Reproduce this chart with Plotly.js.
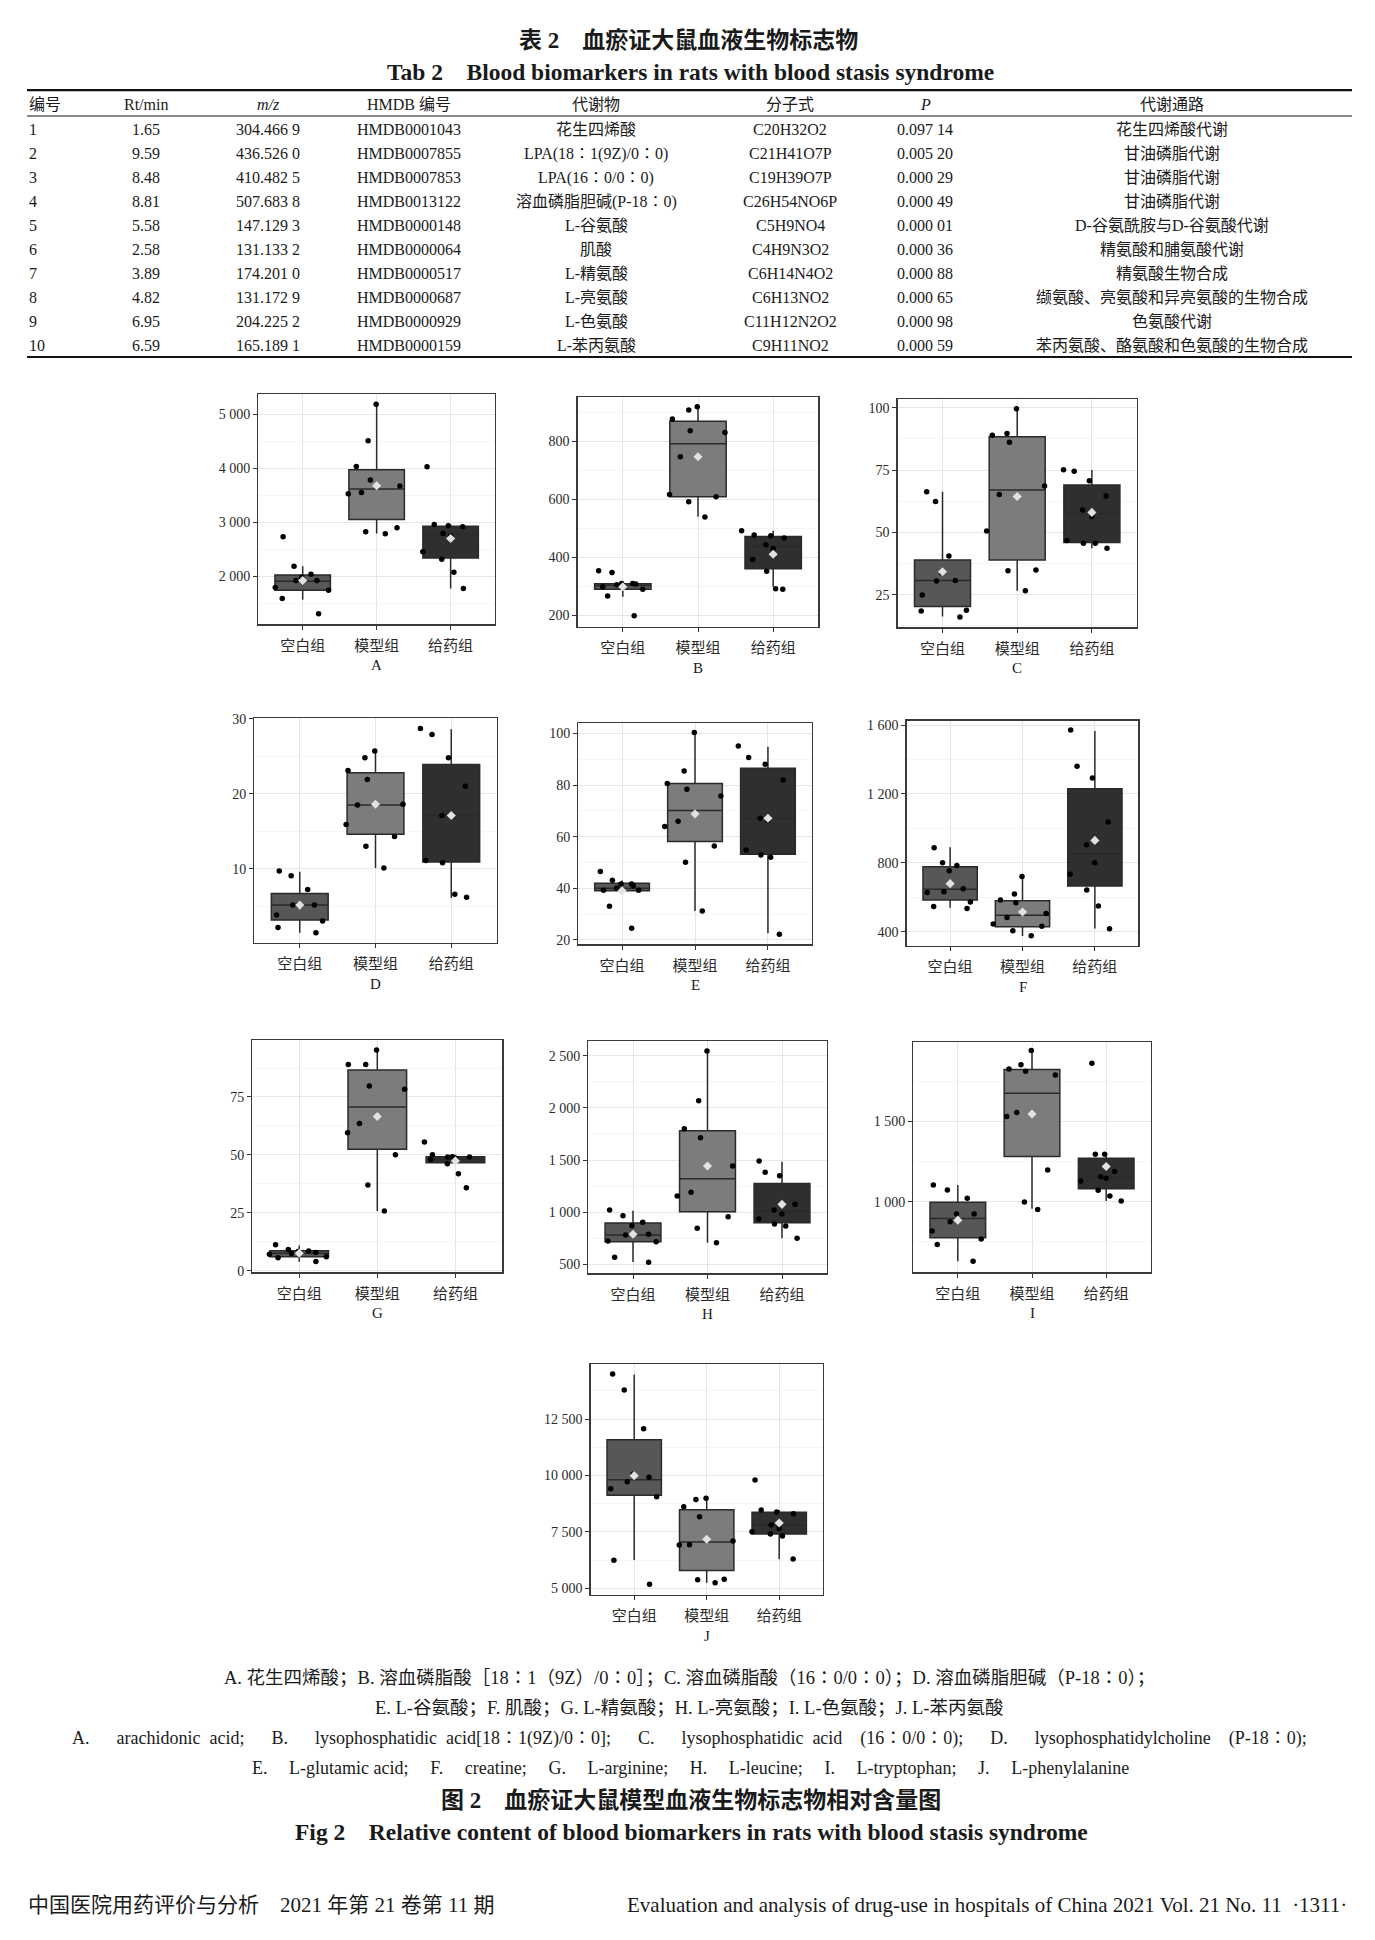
<!DOCTYPE html>
<html><head><meta charset="utf-8">
<script src="https://cdn.plot.ly/plotly-3.0.1.min.js"></script>
<style>html,body{margin:0;padding:0;background:#fff}#chart{width:1375px;height:1940px}</style>
</head><body><div id="chart"></div>
<script>
// ---------- table data ----------
const tabHeader = ['编号','Rt/min','<i>m/z</i>','HMDB 编号','代谢物','分子式','<i>P</i>','代谢通路'];
const tabNo = ['1','2','3','4','5','6','7','8','9','10'];
const tabRt = ['1.65','9.59','8.48','8.81','5.58','2.58','3.89','4.82','6.95','6.59'];
const tabMz = ['304.466 9','436.526 0','410.482 5','507.683 8','147.129 3','131.133 2','174.201 0','131.172 9','204.225 2','165.189 1'];
const tabHmdb = ['HMDB0001043','HMDB0007855','HMDB0007853','HMDB0013122','HMDB0000148','HMDB0000064','HMDB0000517','HMDB0000687','HMDB0000929','HMDB0000159'];
const tabMetab = ['花生四烯酸','LPA(18∶1(9Z)/0∶0)','LPA(16∶0/0∶0)','溶血磷脂胆碱(P-18∶0)','L-谷氨酸','肌酸','L-精氨酸','L-亮氨酸','L-色氨酸','L-苯丙氨酸'];
const tabFormula = ['C20H32O2','C21H41O7P','C19H39O7P','C26H54NO6P','C5H9NO4','C4H9N3O2','C6H14N4O2','C6H13NO2','C11H12N2O2','C9H11NO2'];
const tabP = ['0.097 14','0.005 20','0.000 29','0.000 49','0.000 01','0.000 36','0.000 88','0.000 65','0.000 98','0.000 59'];
const tabPath = ['花生四烯酸代谢','甘油磷脂代谢','甘油磷脂代谢','甘油磷脂代谢','D-谷氨酰胺与D-谷氨酸代谢','精氨酸和脯氨酸代谢','精氨酸生物合成','缬氨酸、亮氨酸和异亮氨酸的生物合成','色氨酸代谢','苯丙氨酸、酪氨酸和色氨酸的生物合成'];

// ---------- figure data ----------
const groups = ['空白组','模型组','给药组'];
const panelLabels = ['A','B','C','D','E','F','G','H','I','J'];
// points per group (空白组, 模型组, 给药组)
const ptsA = [[2186,1920,1981,2730,2037,1790,1920,1740,1586,1307],[5186,4512,4035,3670,3782,3553,3528,2897,2823,2786],[4029,2915,2959,2934,2792,2742,2315,2452,2074,1771]];
const ptsB = [[289,266,309,305,347,298,353,307,198,309],[918,907,876,830,836,746,616,608,591,538],[476,466,443,430,392,474,491,351,291,289]];
const ptsC = [[66.3,62.4,40.5,33.8,30.7,30.5,24.9,18.7,18.4,16.0],[99.6,89.7,89.0,86.1,68.6,65.2,50.5,34.6,34.9,26.6],[74.5,75.1,70.7,64.6,59.0,56.3,46.7,45.6,45.6,43.6]];
const ptsD = [[9.73,9.07,7.25,5.17,5.17,5.17,3.84,3.04,2.2,1.49],[25.7,24.8,23.1,21.9,18.5,14.3,15.9,13.0,10.1,18.6],[28.7,27.9,24.8,21.0,17.1,17.1,11.1,10.8,6.6,6.2]];
const ptsE = [[46.5,43.1,41.7,41.7,40.1,39.2,39.2,33.0,24.5,41.0],[100.3,80.6,85.4,75.7,63.9,56.4,50.1,31.2,66.0,78.4],[95.1,90.7,88.0,81.9,67.1,54.8,52.9,52.0,22.2,66.3]];
const ptsF = [[888,801,785,754,650,628,632,572,547,535],[721,619,584,568,483,445,431,406,377,506],[1571,1360,1292,1037,905,801,733,642,549,417]];
const ptsG = [[11.2,8.5,9.1,8.3,7.8,5.6,4.0,7.1,6.0,7.4],[95.3,89.0,89.0,79.7,78.3,63.5,59.5,50.1,37.0,25.8],[55.6,49.1,50.1,49.2,49.1,46.2,41.9,35.8,48.0,48.5]];
const ptsH = [[1021,966,871,903,781,788,724,717,567,519],[2545,2069,1800,1714,1442,1155,1190,957,845,708],[1490,1382,1350,1075,1021,982,887,935,867,749]];
const ptsI = [[1104,1073,1021,923,923,875,817,767,733,629],[1942,1854,1827,1790,1556,1531,1198,998,952,1812],[1863,1296,1296,1188,1146,1156,1129,1071,1035,1004]];
const ptsJ = [[14493,13785,12072,10064,9917,9724,9414,9060,6240,5177],[8986,8617,8174,7097,6919,6934,5399,5384,5251,8939],[9798,8307,8470,8381,7805,7510,7318,7407,6299,7645]];
// box statistics per group: [lower whisker, Q1, median, Q3, upper whisker]
const boxA = [[1567,1740,1907,2025,2186],[2792,3052,3615,3973,5173],[1771,2340,2773,2928,2955]];
const boxB = [[263,289,302,308,310],[539,608,791,868,915],[298,360,437,471,491]];
const boxC = [[16.2,20.2,30.7,38.9,66.3],[26.6,38.9,67.0,88.4,99.3],[43.6,45.9,57.6,69.0,75.0]];
const boxD = [[1.49,3.17,5.17,6.72,9.6],[10.1,14.6,18.5,22.8,25.7],[6.1,10.9,17.1,23.9,28.6]];
const boxE = [[38.7,39.0,40.0,41.9,43.0],[31.2,58.1,70.1,80.6,100],[22.6,53.2,67.1,86.5,94.8]];
const boxF = [[539,584,646,777,890],[375,429,495,580,719],[419,665,851,1230,1565]];
const boxG = [[3.9,6.0,7.5,8.6,10.9],[25.8,52.4,70.7,86.7,94.9],[46.2,46.6,48.1,49.2,50.1]];
const boxH = [[522,717,781,896,1014],[708,1005,1321,1781,2538],[749,899,1008,1276,1484]];
const boxI = [[629,775,896,996,1104],[956,1281,1675,1823,1938],[1004,1081,1150,1271,1290]];
const boxJ = [[6255,9119,9813,11585,14478],[5251,5783,7052,8484,8986],[6284,7407,7805,8366,8470]];
// group means
const meanA = [1920,3677,2698];
const meanB = [298,746,410];
const meanC = [34.2,64.4,58.0];
const meanD = [5.17,18.6,17.1];
const meanE = [39.0,68.8,67.1];
const meanF = [679,514,930];
const meanG = [7.5,66.6,47.4];
const meanH = [788,1443,1075];
const meanI = [885,1546,1219];
const meanJ = [9990,7170,7894];
// axis ranges and tick steps
const yRanges = [[1110,5376],[160,951],[11.9,103.5],[0.16,30.06],[18.3,103.9],[317,1625],[-0.7,99.6],[414,2641],[560,1995],[4703,14938]];
const yDticks = [1000,200,25,10,20,400,25,500,500,2500];

// ---------- captions ----------
const capCn = [
  'A. 花生四烯酸；B. 溶血磷脂酸［18∶1（9Z）/0∶0］；C. 溶血磷脂酸（16∶0/0∶0）；D. 溶血磷脂胆碱（P-18∶0）；',
  'E. L-谷氨酸；F. 肌酸；G. L-精氨酸；H. L-亮氨酸；I. L-色氨酸；J. L-苯丙氨酸'
];
const capEn = [
  'A.\u2003\u2002arachidonic\u2002acid;\u2003\u2002B.\u2003\u2002lysophosphatidic\u2002acid[18∶1(9Z)/0∶0];\u2003\u2002C.\u2003\u2002lysophosphatidic\u2002acid\u2003(16∶0/0∶0);\u2003\u2002D.\u2003\u2002lysophosphatidylcholine\u2003(P-18∶0);',
  'E.\u2002\u2002\u2009L-glutamic acid;\u2002\u2002\u2009F.\u2002\u2002\u2009creatine;\u2002\u2002\u2009G.\u2002\u2002\u2009L-arginine;\u2002\u2002\u2009H.\u2002\u2002\u2009L-leucine;\u2002\u2002\u2009I.\u2002\u2002\u2009L-tryptophan;\u2002\u2002\u2009J.\u2002\u2002\u2009L-phenylalanine'
];
const figTitleCn = '图 2\u2003血瘀证大鼠模型血液生物标志物相对含量图';
const figTitleEn = 'Fig 2\u2003Relative content of blood biomarkers in rats with blood stasis syndrome';
const tabTitleCn = '表 2\u2003血瘀证大鼠血液生物标志物';
const tabTitleEn = 'Tab 2\u2003Blood biomarkers in rats with blood stasis syndrome';
const footLeft = '中国医院用药评价与分析\u20032021 年第 21 卷第 11 期';
const footRight = 'Evaluation and analysis of drug-use in hospitals of China 2021 Vol. 21 No. 11\u2002·1311·';

// ---------- layout geometry ----------
const W = 1375, H = 1940;
const SERIF = "'Liberation Serif', 'Noto Sans CJK SC', serif";
const INK = '#1a1a1a';
const fx = p => p / W, fy = p => 1 - p / H;
// plot areas in page pixels [left, right, top, bottom]
const areas = [
  [258.3,495,394,624.3],[577.7,818.3,397.3,626.7],[897.7,1136.7,399,627.3],
  [254.3,496.7,718.3,942.7],[578.3,811.7,723.3,944.3],[906.7,1138.3,720.7,946],
  [252.3,502.3,1040,1272.3],[588.3,826.7,1041,1273.3],[913.3,1150.7,1042,1272.3],
  [590.7,822.7,1364,1595]
];
const allPts = [ptsA,ptsB,ptsC,ptsD,ptsE,ptsF,ptsG,ptsH,ptsI,ptsJ];
const allBox = [boxA,boxB,boxC,boxD,boxE,boxF,boxG,boxH,boxI,boxJ];
const allMean = [meanA,meanB,meanC,meanD,meanE,meanF,meanG,meanH,meanI,meanJ];
const fills = ['#575757','#7c7c7c','#2f2f2f'];

const traces = [];
const layout = {
  width: W, height: H, margin: {l:0,r:0,t:0,b:0}, paper_bgcolor:'#fff', plot_bgcolor:'#fff',
  showlegend:false, separators:'. ', boxmode:'overlay', annotations:[], shapes:[],
  font:{family:SERIF, color:INK}
};

areas.forEach((a, i) => {
  const n = i === 0 ? '' : String(i + 1);
  const xr = 'x' + n, yr = 'y' + n;
  allBox[i].forEach((b, g) => traces.push({
    type:'box', xaxis:xr, yaxis:yr, x:[groups[g]],
    lowerfence:[b[0]], q1:[b[1]], median:[b[2]], q3:[b[3]], upperfence:[b[4]],
    width:0.75, fillcolor:fills[g], line:{color:'#2a2a2a', width:1.5},
    whiskerwidth:0, boxpoints:false, hoverinfo:'skip'
  }));
  const xs = [], ys = [];
  allPts[i].forEach((arr, g) => arr.forEach(v => { xs.push(groups[g]); ys.push(v); }));
  traces.push({
    type:'box', xaxis:xr, yaxis:yr, x:xs, y:ys, boxpoints:'all', jitter:1, pointpos:0,
    width:0.9, fillcolor:'rgba(0,0,0,0)', line:{color:'rgba(0,0,0,0)', width:0},
    marker:{color:'#000', size:5.5}, whiskerwidth:0, hoverinfo:'skip'
  });
  traces.push({
    type:'scatter', mode:'markers', xaxis:xr, yaxis:yr, x:groups, y:allMean[i],
    marker:{symbol:'diamond', size:7, color:'#e2e2e2'}, hoverinfo:'skip'
  });
  layout['xaxis' + n] = {
    domain:[fx(a[0]), fx(a[1])], anchor:yr, type:'category', categoryorder:'array',
    categoryarray:groups, range:[-0.6, 2.6], showgrid:true, gridcolor:'#e6e6e6', gridwidth:1,
    showline:true, mirror:true, linecolor:'#3a3a3a', linewidth:1.3, zeroline:false,
    ticks:'outside', ticklen:4, tickwidth:1, tickcolor:'#333', ticklabelstandoff:3,
    tickfont:{family:SERIF, size:15, color:'#2a2a2a'}, fixedrange:true
  };
  layout['yaxis' + n] = {
    domain:[fy(a[3]), fy(a[2])], anchor:xr, range:yRanges[i], tickmode:'linear', tick0:0,
    dtick:yDticks[i], tickformat:',', exponentformat:'none', separatethousands:true,
    showgrid:true, gridcolor:'#e6e6e6', gridwidth:1,
    minor:{tick0:0, dtick:yDticks[i] / 2, showgrid:true, gridcolor:'#f2f2f2', gridwidth:0.7},
    showline:true, mirror:true, linecolor:'#3a3a3a', linewidth:1.3, zeroline:false,
    ticks:'outside', ticklen:4, tickwidth:1, tickcolor:'#333',
    tickfont:{family:SERIF, size:14, color:'#2a2a2a'}, fixedrange:true
  };
  layout.annotations.push({
    xref:'paper', yref:'paper', x:fx((a[0] + a[1]) / 2), y:fy(a[3] + 41),
    text:panelLabels[i], showarrow:false, xanchor:'center', yanchor:'middle',
    font:{family:SERIF, size:15, color:INK}
  });
});

function note(text, px, py, size, anchor) {
  layout.annotations.push({
    xref:'paper', yref:'paper', x:fx(px), y:fy(py), text:text, showarrow:false,
    xanchor:anchor || 'center', yanchor:'middle', font:{family:SERIF, size:size, color:INK}
  });
}

// table titles
note('<b>' + tabTitleCn + '</b>', 688, 40, 23);
note('<b>' + tabTitleEn + '</b>', 690, 72, 23.5);
// table rules
[[90.2, 2.2], [116, 1], [357, 2.2]].forEach(r => layout.shapes.push({
  type:'line', xref:'paper', yref:'paper', x0:fx(27), x1:fx(1352), y0:fy(r[0]), y1:fy(r[0]),
  line:{color:'#111', width:r[1]}
}));
// table body
const colX = [27, 146, 268, 409, 596, 790, 925, 1172];
const cols = [tabNo, tabRt, tabMz, tabHmdb, tabMetab, tabFormula, tabP, tabPath];
tabHeader.forEach((h, c) => note(h, colX[c], 104, 16, c === 0 ? 'left' : 'center'));
cols.forEach((col, c) => col.forEach((v, r) => note(v, colX[c], 129.6 + r * 24.02, 16, c === 0 ? 'left' : 'center')));

// captions
note(capCn[0], 689, 1678, 18.5);
note(capCn[1], 689, 1708, 18.5);
note(capEn[0], 689, 1738, 18);
note(capEn[1], 690, 1768, 18);
note('<b>' + figTitleCn + '</b>', 691, 1800, 23);
note('<b>' + figTitleEn + '</b>', 691, 1832, 23.5);
note(footLeft, 26, 1905, 21, 'left');
note(footRight, 1349, 1905, 21, 'right');

Plotly.newPlot('chart', traces, layout, {staticPlot:true, displayModeBar:false});
</script>
</body></html>
